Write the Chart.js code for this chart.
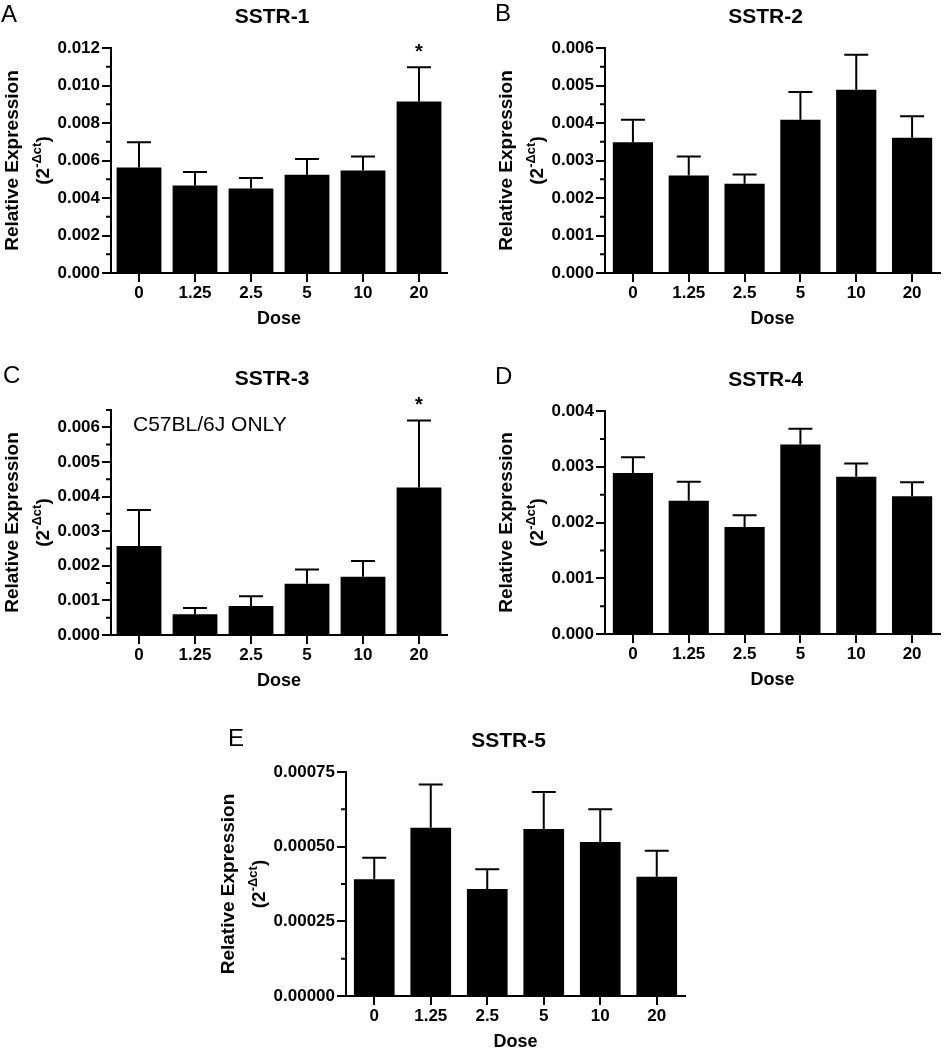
<!DOCTYPE html>
<html>
<head>
<meta charset="utf-8">
<script src="https://cdn.jsdelivr.net/npm/chart.js@4.4.0/dist/chart.umd.min.js"></script>
<style>
  body { margin: 0; background: #fff; }
  #page { position: relative; width: 944px; height: 1050px; }
  canvas { position: absolute; }
</style>
</head>
<body>
<div id="page">
  <canvas id="panelA" width="470" height="330" style="left:0;top:0;width:470px;height:330px"></canvas>
  <canvas id="panelB" width="474" height="330" style="left:470px;top:0;width:474px;height:330px"></canvas>
  <canvas id="panelC" width="470" height="360" style="left:0;top:330px;width:470px;height:360px"></canvas>
  <canvas id="panelD" width="474" height="360" style="left:470px;top:330px;width:474px;height:360px"></canvas>
  <canvas id="panelE" width="500" height="360" style="left:200px;top:690px;width:500px;height:360px"></canvas>
</div>
<script>
// Dose groups (x categories)
const doses = ["0", "1.25", "2.5", "5", "10", "20"];

// SSTR-1
const sstr1Mean = [0.00563, 0.00467, 0.00451, 0.00524, 0.00547, 0.00915];
const sstr1Sem  = [0.00134, 0.00072, 0.00056, 0.00084, 0.00075, 0.00182];
const sstr1Sig  = ["", "", "", "", "", "*"];

// SSTR-2
const sstr2Mean = [0.00349, 0.00260, 0.00238, 0.00409, 0.00489, 0.00361];
const sstr2Sem  = [0.00060, 0.00051, 0.00025, 0.00074, 0.00093, 0.00057];
const sstr2Sig  = ["", "", "", "", "", ""];

// SSTR-3 (C57BL/6J only)
const sstr3Mean = [0.00257, 0.00060, 0.00084, 0.00148, 0.00168, 0.00426];
const sstr3Sem  = [0.00104, 0.00018, 0.00028, 0.00041, 0.00046, 0.00194];
const sstr3Sig  = ["", "", "", "", "", "*"];

// SSTR-4
const sstr4Mean = [0.00289, 0.00239, 0.00192, 0.00340, 0.00282, 0.00247];
const sstr4Sem  = [0.00028, 0.00034, 0.00021, 0.00028, 0.00024, 0.00025];
const sstr4Sig  = ["", "", "", "", "", ""];

// SSTR-5
const sstr5Mean = [0.000391, 0.000563, 0.000358, 0.000559, 0.000516, 0.000399];
const sstr5Sem  = [0.000072, 0.000145, 0.000066, 0.000124, 0.000109, 0.000087];
const sstr5Sig  = ["", "", "", "", "", ""];

// y axis ranges: max, major step, minor step, decimals
const yAxis1 = [0.012, 0.002, 0.001, 3];
const yAxis2 = [0.006, 0.001, 0.0005, 3];
const yAxis3 = [0.0065, 0.001, 0.0005, 3];
const yAxis4 = [0.004, 0.001, 0.0005, 3];
const yAxis5 = [0.00075, 0.00025, 0.000125, 5];

const FONT = '"Liberation Sans", Arial, Helvetica, sans-serif';
Chart.defaults.color = '#000';
Chart.defaults.font.family = FONT;

function makePanel(id, cfg) {
  const area = cfg.area;
  const [yMax, yStep, yMinor, yDigits] = cfg.yAxis;

  const extras = {
    id: 'extras',
    afterDatasetsDraw(chart) {
      const ctx = chart.ctx;
      const y = chart.scales.y;
      const ca = chart.chartArea;
      const meta = chart.getDatasetMeta(0);
      ctx.save();
      ctx.strokeStyle = '#000';
      ctx.fillStyle = '#000';
      ctx.lineWidth = 2;

      // error bars (upper only) + significance marks
      meta.data.forEach((bar, i) => {
        const top = y.getPixelForValue(cfg.mean[i] + cfg.sem[i]);
        ctx.beginPath();
        ctx.moveTo(bar.x, bar.y);
        ctx.lineTo(bar.x, top);
        ctx.moveTo(bar.x - cfg.cap / 2, top);
        ctx.lineTo(bar.x + cfg.cap / 2, top);
        ctx.stroke();
        if (cfg.sig[i]) {
          ctx.font = 'bold 20px ' + FONT;
          ctx.textAlign = 'center';
          ctx.textBaseline = 'alphabetic';
          ctx.fillText(cfg.sig[i], bar.x, top - 9);
        }
      });

      // minor ticks on the y axis
      const n = Math.round(yMax / yMinor);
      ctx.beginPath();
      for (let i = 1; i <= n; i++) {
        const v = i * yMinor;
        const r = v / yStep;
        if (Math.abs(r - Math.round(r)) < 1e-6) continue;
        const py = y.getPixelForValue(v);
        ctx.moveTo(ca.left, py);
        ctx.lineTo(ca.left - 5, py);
      }
      ctx.stroke();
      ctx.restore();
    },
    afterDraw(chart) {
      const ctx = chart.ctx;
      const y = chart.scales.y;
      const ca = chart.chartArea;
      const cx = (ca.left + ca.right) / 2;
      const cy = (ca.top + ca.bottom) / 2;
      ctx.save();
      ctx.fillStyle = '#000';

      // panel letter
      ctx.font = '24px ' + FONT;
      ctx.textAlign = 'left';
      ctx.textBaseline = 'alphabetic';
      ctx.fillText(cfg.letter, cfg.letterPos[0], cfg.letterPos[1] + 8.6);

      // title
      ctx.font = 'bold 21px ' + FONT;
      ctx.textAlign = 'center';
      ctx.fillText(cfg.title, cx - 7, ca.top - 25.5);

      // x axis title
      ctx.font = 'bold 18px ' + FONT;
      ctx.fillText('Dose', cx, ca.bottom + 50.5);

      // note inside plot
      if (cfg.note) {
        ctx.font = '21px ' + FONT;
        ctx.textAlign = 'left';
        ctx.fillText(cfg.note, ca.left + 22, ca.top + 20.5);
      }

      // y axis title, two lines, placed left of widest tick label
      ctx.font = 'bold 17px ' + FONT;
      let widest = 0;
      y.ticks.forEach(t => { widest = Math.max(widest, ctx.measureText(t.label).width); });
      const labelLeft = ca.left - 9 - 2 - widest;

      ctx.save();
      ctx.translate(labelLeft - 46, cy);
      ctx.rotate(-Math.PI / 2);
      ctx.font = 'bold 19px ' + FONT;
      ctx.textAlign = 'center';
      ctx.fillText('Relative Expression', 0, 0.358 * 19);
      ctx.restore();

      ctx.save();
      ctx.translate(labelLeft - 15, cy);
      ctx.rotate(-Math.PI / 2);
      ctx.textAlign = 'left';
      const mainF = 'bold 19px ' + FONT;
      const supF = 'bold 13px ' + FONT;
      ctx.font = mainF; const w1 = ctx.measureText('(2').width; const w3 = ctx.measureText(')').width;
      ctx.font = supF; const w2 = ctx.measureText('-\u0394ct').width;
      let x0 = -(w1 + w2 + w3) / 2;
      const base = 0.358 * 19;
      ctx.font = mainF; ctx.fillText('(2', x0, base); x0 += w1;
      ctx.font = supF; ctx.fillText('-\u0394ct', x0, base - 8); x0 += w2;
      ctx.font = mainF; ctx.fillText(')', x0, base);
      ctx.restore();

      ctx.restore();
    }
  };

  return new Chart(document.getElementById(id), {
    type: 'bar',
    data: {
      labels: doses,
      datasets: [{
        data: cfg.mean,
        backgroundColor: '#000',
        borderWidth: 0,
        barPercentage: cfg.barPct,
        categoryPercentage: 1
      }]
    },
    options: {
      responsive: false,
      animation: false,
      layout: { padding: { top: area.top, right: cfg.w - area.right, bottom: 0, left: 0 } },
      plugins: { legend: { display: false }, tooltip: { enabled: false }, title: { display: false } },
      scales: {
        x: {
          grid: { drawOnChartArea: false, offset: false, tickLength: 9, color: '#000', lineWidth: 2 },
          border: { display: true, color: '#000', width: 2 },
          ticks: { font: { size: 17, weight: 'bold' }, color: '#000', padding: 1, maxRotation: 0, autoSkip: false },
          afterFit(s) { s.height = cfg.h - area.bottom; }
        },
        y: {
          min: 0,
          max: yMax,
          grid: { drawOnChartArea: false, tickLength: 9, color: '#000', lineWidth: 2 },
          border: { display: true, color: '#000', width: 2 },
          ticks: {
            stepSize: yStep,
            font: { size: 17, weight: 'bold' },
            color: '#000',
            padding: 2,
            callback: v => Number(v).toFixed(yDigits)
          },
          afterBuildTicks(s) {
            // major ticks only at whole multiples of the step (axis top may sit between)
            const ticks = [];
            const count = Math.floor(yMax / yStep + 1e-6);
            for (let i = 0; i <= count; i++) ticks.push({ value: i * yStep });
            s.ticks = ticks;
          },
          afterFit(s) { s.width = area.left; }
        }
      }
    },
    plugins: [extras]
  });
}

makePanel('panelA', {
  w: 470, h: 330, area: { left: 111, top: 48, right: 447, bottom: 273 },
  title: 'SSTR-1', letter: 'A', letterPos: [1, 13.5],
  mean: sstr1Mean, sem: sstr1Sem, sig: sstr1Sig, yAxis: yAxis1, barPct: 0.8, cap: 24
});
makePanel('panelB', {
  w: 474, h: 330, area: { left: 135, top: 48, right: 470, bottom: 273 },
  title: 'SSTR-2', letter: 'B', letterPos: [25, 12.5],
  mean: sstr2Mean, sem: sstr2Sem, sig: sstr2Sig, yAxis: yAxis2, barPct: 0.72, cap: 24
});
makePanel('panelC', {
  w: 470, h: 360, area: { left: 111, top: 80, right: 447, bottom: 305 },
  title: 'SSTR-3', letter: 'C', letterPos: [3, 44], note: 'C57BL/6J ONLY',
  mean: sstr3Mean, sem: sstr3Sem, sig: sstr3Sig, yAxis: yAxis3, barPct: 0.8, cap: 24
});
makePanel('panelD', {
  w: 474, h: 360, area: { left: 135, top: 81, right: 470, bottom: 304 },
  title: 'SSTR-4', letter: 'D', letterPos: [25, 45],
  mean: sstr4Mean, sem: sstr4Sem, sig: sstr4Sig, yAxis: yAxis4, barPct: 0.72, cap: 24
});
makePanel('panelE', {
  w: 500, h: 360, area: { left: 146, top: 82, right: 485, bottom: 306 },
  title: 'SSTR-5', letter: 'E', letterPos: [28, 47],
  mean: sstr5Mean, sem: sstr5Sem, sig: sstr5Sig, yAxis: yAxis5, barPct: 0.72, cap: 24
});
</script>
</body>
</html>
